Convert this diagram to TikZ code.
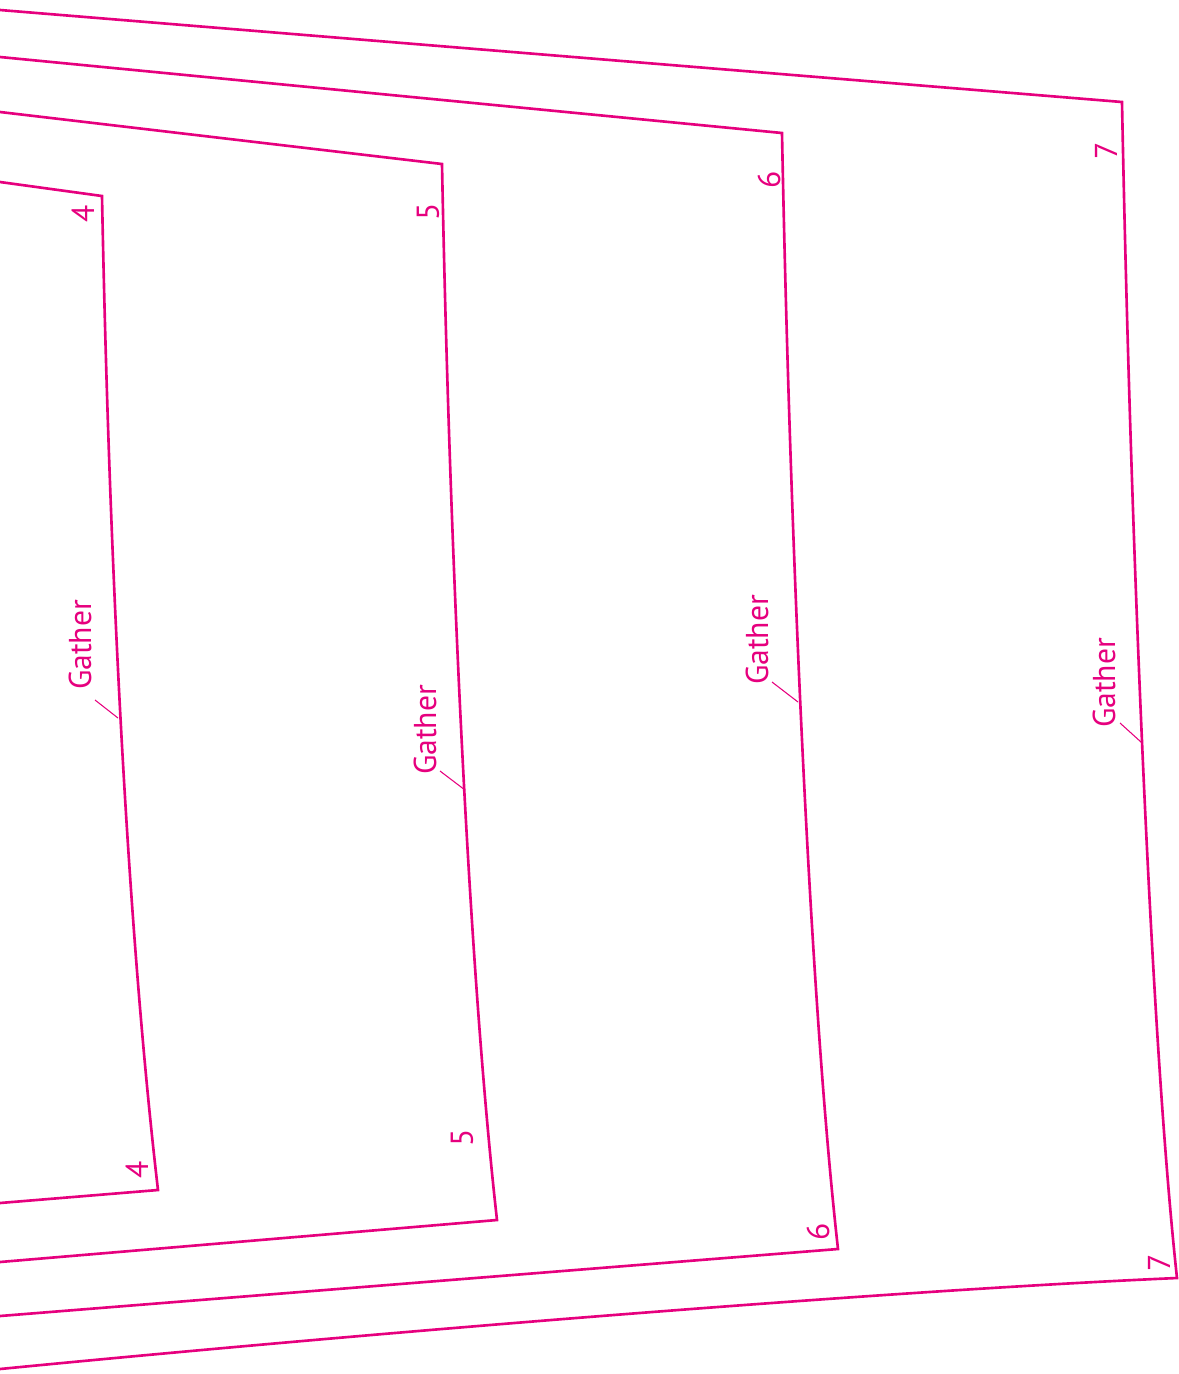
\documentclass[tikz,border=0pt]{standalone}
\usepackage{fontspec}
\setmainfont{PT Sans}
\usetikzlibrary{calc}
\definecolor{PatternPink}{HTML}{E6007E}

\begin{document}
\begin{tikzpicture}[
    x=0.02cm,y=-0.02cm,
    font=\fontsize{18}{21}\selectfont,
    cutline/.style={draw=PatternPink,line width=1.5pt,line join=miter},
    marker/.style={draw=PatternPink,line width=0.6pt},
    sizelabel/.style={text=PatternPink,rotate=90,inner sep=0pt},
    gatherlabel/.style={text=PatternPink,rotate=90,inner sep=0pt}
  ]
    \useasboundingbox (0,0) rectangle (1178,1374);

    % size 4
    \coordinate (tl4) at (0,182);
    \coordinate (tr4) at (102,196);
    \coordinate (br4) at (158,1190);
    \coordinate (bl4) at (0,1203);
    \draw[cutline] (tl4) -- (tr4) .. controls (110,600) and (130,950) .. (br4) -- (bl4);
    % size 5
    \coordinate (tl5) at (0,112);
    \coordinate (tr5) at (442,164);
    \coordinate (br5) at (497,1220);
    \coordinate (bl5) at (0,1262);
    \draw[cutline] (tl5) -- (tr5) .. controls (450,570) and (470,980) .. (br5) -- (bl5);
    % size 6
    \coordinate (tl6) at (0,57);
    \coordinate (tr6) at (782,133);
    \coordinate (br6) at (838,1249);
    \coordinate (bl6) at (0,1316);
    \draw[cutline] (tl6) -- (tr6) .. controls (790,540) and (810,1000) .. (br6) -- (bl6);
    % size 7
    \coordinate (tl7) at (0,10);
    \coordinate (tr7) at (1122,102);
    \coordinate (br7) at (1177,1278);
    \coordinate (bl7) at (0,1369);
    \draw[cutline] (tl7) -- (tr7) .. controls (1130,510) and (1150,1030) .. (br7)
      .. controls (900,1290) and (400,1330) .. (bl7);

    % size numbers
    \node[sizelabel] (n4a) at (83,214) {4};
    \node[sizelabel] (n4b) at (137,1170) {4};
    \node[sizelabel] (n5a) at (428,212) {5};
    \node[sizelabel] (n5b) at (462,1138) {5};
    \node[sizelabel] (n6a) at (769,180) {6};
    \node[sizelabel] (n6b) at (818,1232) {6};
    \node[sizelabel] (n7a) at (1106,151) {7};
    \node[sizelabel] (n7b) at (1159,1263) {7};

    % gather marks
    \node[gatherlabel] (g4) at (80,645) {Gather};
    \coordinate (s4) at (95,700);
    \coordinate (m4) at (118,718);
    \draw[marker] (s4) -- (m4);
    \node[gatherlabel] (g5) at (425,730) {Gather};
    \coordinate (s5) at (440,771);
    \coordinate (m5) at (465,790);
    \draw[marker] (s5) -- (m5);
    \node[gatherlabel] (g6) at (757,640) {Gather};
    \coordinate (s6) at (772,682);
    \coordinate (m6) at (798,702);
    \draw[marker] (s6) -- (m6);
    \node[gatherlabel] (g7) at (1104,683) {Gather};
    \coordinate (s7) at (1120,723);
    \coordinate (m7) at (1141,742);
    \draw[marker] (s7) -- (m7);
  \end{tikzpicture}
\end{document}
